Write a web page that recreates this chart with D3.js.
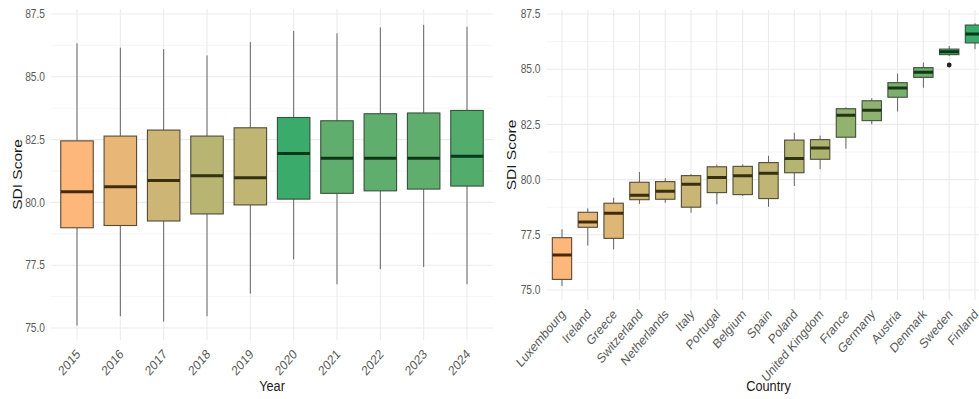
<!DOCTYPE html>
<html><head><meta charset="utf-8">
<script src="https://cdn.jsdelivr.net/npm/d3@7"></script>
<style>body{margin:0;background:#fff}svg{display:block;font-family:"Liberation Sans",Arial,sans-serif}</style>
</head><body>
<svg id="c" width="979" height="399"></svg>
<script>
// ---- Data ----
const years = ["2015","2016","2017","2018","2019","2020","2021","2022","2023","2024"];
const yearLow  = [75.10,75.47,75.26,75.47,76.37,77.73,76.74,77.34,77.43,76.74];
const yearQ1   = [78.99,79.08,79.26,79.54,79.90,80.13,80.36,80.46,80.53,80.65];
const yearMed  = [80.42,80.62,80.87,81.06,80.98,81.95,81.76,81.76,81.76,81.84];
const yearQ3   = [82.45,82.64,82.88,82.64,82.97,83.38,83.25,83.53,83.56,83.66];
const yearHigh = [86.33,86.16,86.10,85.85,86.38,86.83,86.73,86.97,87.07,86.99];

const countries = ["Luxembourg","Ireland","Greece","Switzerland","Netherlands","Italy","Portugal","Belgium","Spain","Poland","United Kingdom","France","Germany","Austria","Denmark","Sweden","Finland"];
const cLow  = [75.18,77.01,76.84,78.90,78.95,78.50,78.88,79.26,78.77,79.71,80.47,81.40,82.50,83.08,84.16,85.60,85.91];
const cQ1   = [75.48,77.84,77.34,79.09,79.11,78.75,79.41,79.32,79.14,80.31,80.92,81.92,82.67,83.73,84.63,85.66,86.19];
const cMed  = [76.59,78.08,78.48,79.29,79.47,79.79,80.10,80.18,80.29,80.96,81.43,82.91,83.14,84.15,84.86,85.79,86.59];
const cQ3   = [77.37,78.52,78.93,79.88,79.91,80.18,80.58,80.60,80.77,81.79,81.81,83.21,83.57,84.39,85.07,85.91,87.00];
const cHigh = [77.75,78.70,79.18,80.34,80.06,80.25,80.68,80.69,81.08,82.12,81.99,83.27,83.68,84.80,85.30,86.05,87.08];
const outlierCountry = ["Sweden"];
const outlierValue = [85.19];

const yTicks = [75.0, 77.5, 80.0, 82.5, 85.0, 87.5];
const yMinor = [76.25, 78.75, 81.25, 83.75, 86.25];

const lowColor = "#FDB77A", highColor = "#3BAB6B";
const SQ = 0.85; // horizontal text compression seen in the reference

const svg = d3.select("#c");

function panel(opt){
  const g = svg.append("g");
  const x = d3.scalePoint().domain(opt.cats).range([opt.x0, opt.x1]).padding(0.6);
  const y = d3.scaleLinear().domain([75, 87.5]).range([opt.y75, opt.y875]);
  const step = x.step(), bw = step * 0.75;
  const color = d3.scaleLinear().domain(d3.extent(opt.med)).range([lowColor, highColor]).interpolate(d3.interpolateLab);

  const clipId = "clip" + opt.id;
  svg.append("clipPath").attr("id", clipId).append("rect")
    .attr("x", opt.x0).attr("y", opt.top).attr("width", Math.min(opt.x1, 979) - opt.x0).attr("height", opt.bottom - opt.top);
  const grid = g.append("g");
  grid.selectAll(".mn").data(yMinor).join("line")
    .attr("x1", opt.x0).attr("x2", opt.x1).attr("y1", d => y(d)).attr("y2", d => y(d))
    .attr("stroke", "#F3F3F3").attr("stroke-width", 0.8);
  grid.selectAll(".mj").data(yTicks).join("line")
    .attr("x1", opt.x0).attr("x2", opt.x1).attr("y1", d => y(d)).attr("y2", d => y(d))
    .attr("stroke", "#EBEBEB").attr("stroke-width", 1.1);
  grid.selectAll(".vx").data(opt.cats).join("line")
    .attr("x1", d => x(d)).attr("x2", d => x(d)).attr("y1", opt.top).attr("y2", opt.bottom)
    .attr("stroke", "#EBEBEB").attr("stroke-width", 1.1);

  const data = opt.cats.map((c, i) => ({c, lo: opt.low[i], q1: opt.q1[i], md: opt.med[i], q3: opt.q3[i], hi: opt.high[i]}));
  const bx = g.append("g").attr("clip-path", `url(#${clipId})`);
  const items = bx.selectAll("g.b").data(data).join("g");
  items.append("line").attr("x1", d => x(d.c)).attr("x2", d => x(d.c))
    .attr("y1", d => y(d.hi)).attr("y2", d => y(d.q3)).attr("stroke", "#666").attr("stroke-width", 1);
  items.append("line").attr("x1", d => x(d.c)).attr("x2", d => x(d.c))
    .attr("y1", d => y(d.q1)).attr("y2", d => y(d.lo)).attr("stroke", "#666").attr("stroke-width", 1);
  items.append("rect").attr("x", d => x(d.c) - bw / 2).attr("width", bw)
    .attr("y", d => y(d.q3)).attr("height", d => y(d.q1) - y(d.q3))
    .attr("fill", d => color(d.md))
    .attr("stroke", d => { const l = d3.lab(color(d.md)); return d3.lab(32, l.a * 0.35, l.b * 0.35).formatHex(); })
    .attr("stroke-width", 1.1);
  items.append("line").attr("x1", d => x(d.c) - bw / 2).attr("x2", d => x(d.c) + bw / 2)
    .attr("y1", d => y(d.md)).attr("y2", d => y(d.md))
    .attr("stroke", d => { const l = d3.lab(color(d.md)); return d3.lab(20, l.a * 0.6, l.b * 0.6).formatHex(); })
    .attr("stroke-width", 3);
  if (opt.outCats) {
    bx.selectAll("circle").data(opt.outCats.map((c, i) => ({c, v: opt.outVals[i]}))).join("circle")
      .attr("cx", d => x(d.c)).attr("cy", d => y(d.v)).attr("r", 2.4).attr("fill", "#222");
  }

  g.selectAll(".yt").data(yTicks).join("text")
    .attr("transform", d => `translate(${opt.x0 - 6},${y(d)}) scale(${SQ},1)`)
    .attr("text-anchor", "end").attr("dy", "0.35em")
    .attr("font-size", 12).attr("fill", "#595959").text(d => d.toFixed(1));
  g.selectAll(".xt").data(opt.cats).join("text")
    .attr("transform", d => `translate(${x(d) + 4},${opt.bottom + 15}) scale(${SQ},1) rotate(-45)`)
    .attr("text-anchor", "end")
    .attr("font-size", 13.5).attr("fill", "#595959").text(d => d);
  g.append("text").attr("transform", `translate(${(opt.x0 + opt.x1) / 2},391) scale(${SQ},1)`)
    .attr("text-anchor", "middle").attr("font-size", 15).attr("fill", "#1A1A1A").text(opt.xTitle);
  g.append("text").attr("transform", `translate(${opt.yTitleX},${(opt.top + opt.bottom) / 2}) scale(${SQ},1) rotate(-90)`)
    .attr("text-anchor", "middle").attr("font-size", 15.5).attr("fill", "#1A1A1A").text("SDI Score");
}

panel({id: "L", cats: years, low: yearLow, q1: yearQ1, med: yearMed, q3: yearQ3, high: yearHigh,
  x0: 51, x1: 493, top: 9, bottom: 340, y75: 328, y875: 14, xTitle: "Year", yTitleX: 22});
panel({id: "R", cats: countries, low: cLow, q1: cQ1, med: cMed, q3: cQ3, high: cHigh,
  outCats: outlierCountry, outVals: outlierValue,
  x0: 546.5, x1: 990.5, top: 10, bottom: 300, y75: 290, y875: 14, xTitle: "Country", yTitleX: 516});
</script>
</body></html>
